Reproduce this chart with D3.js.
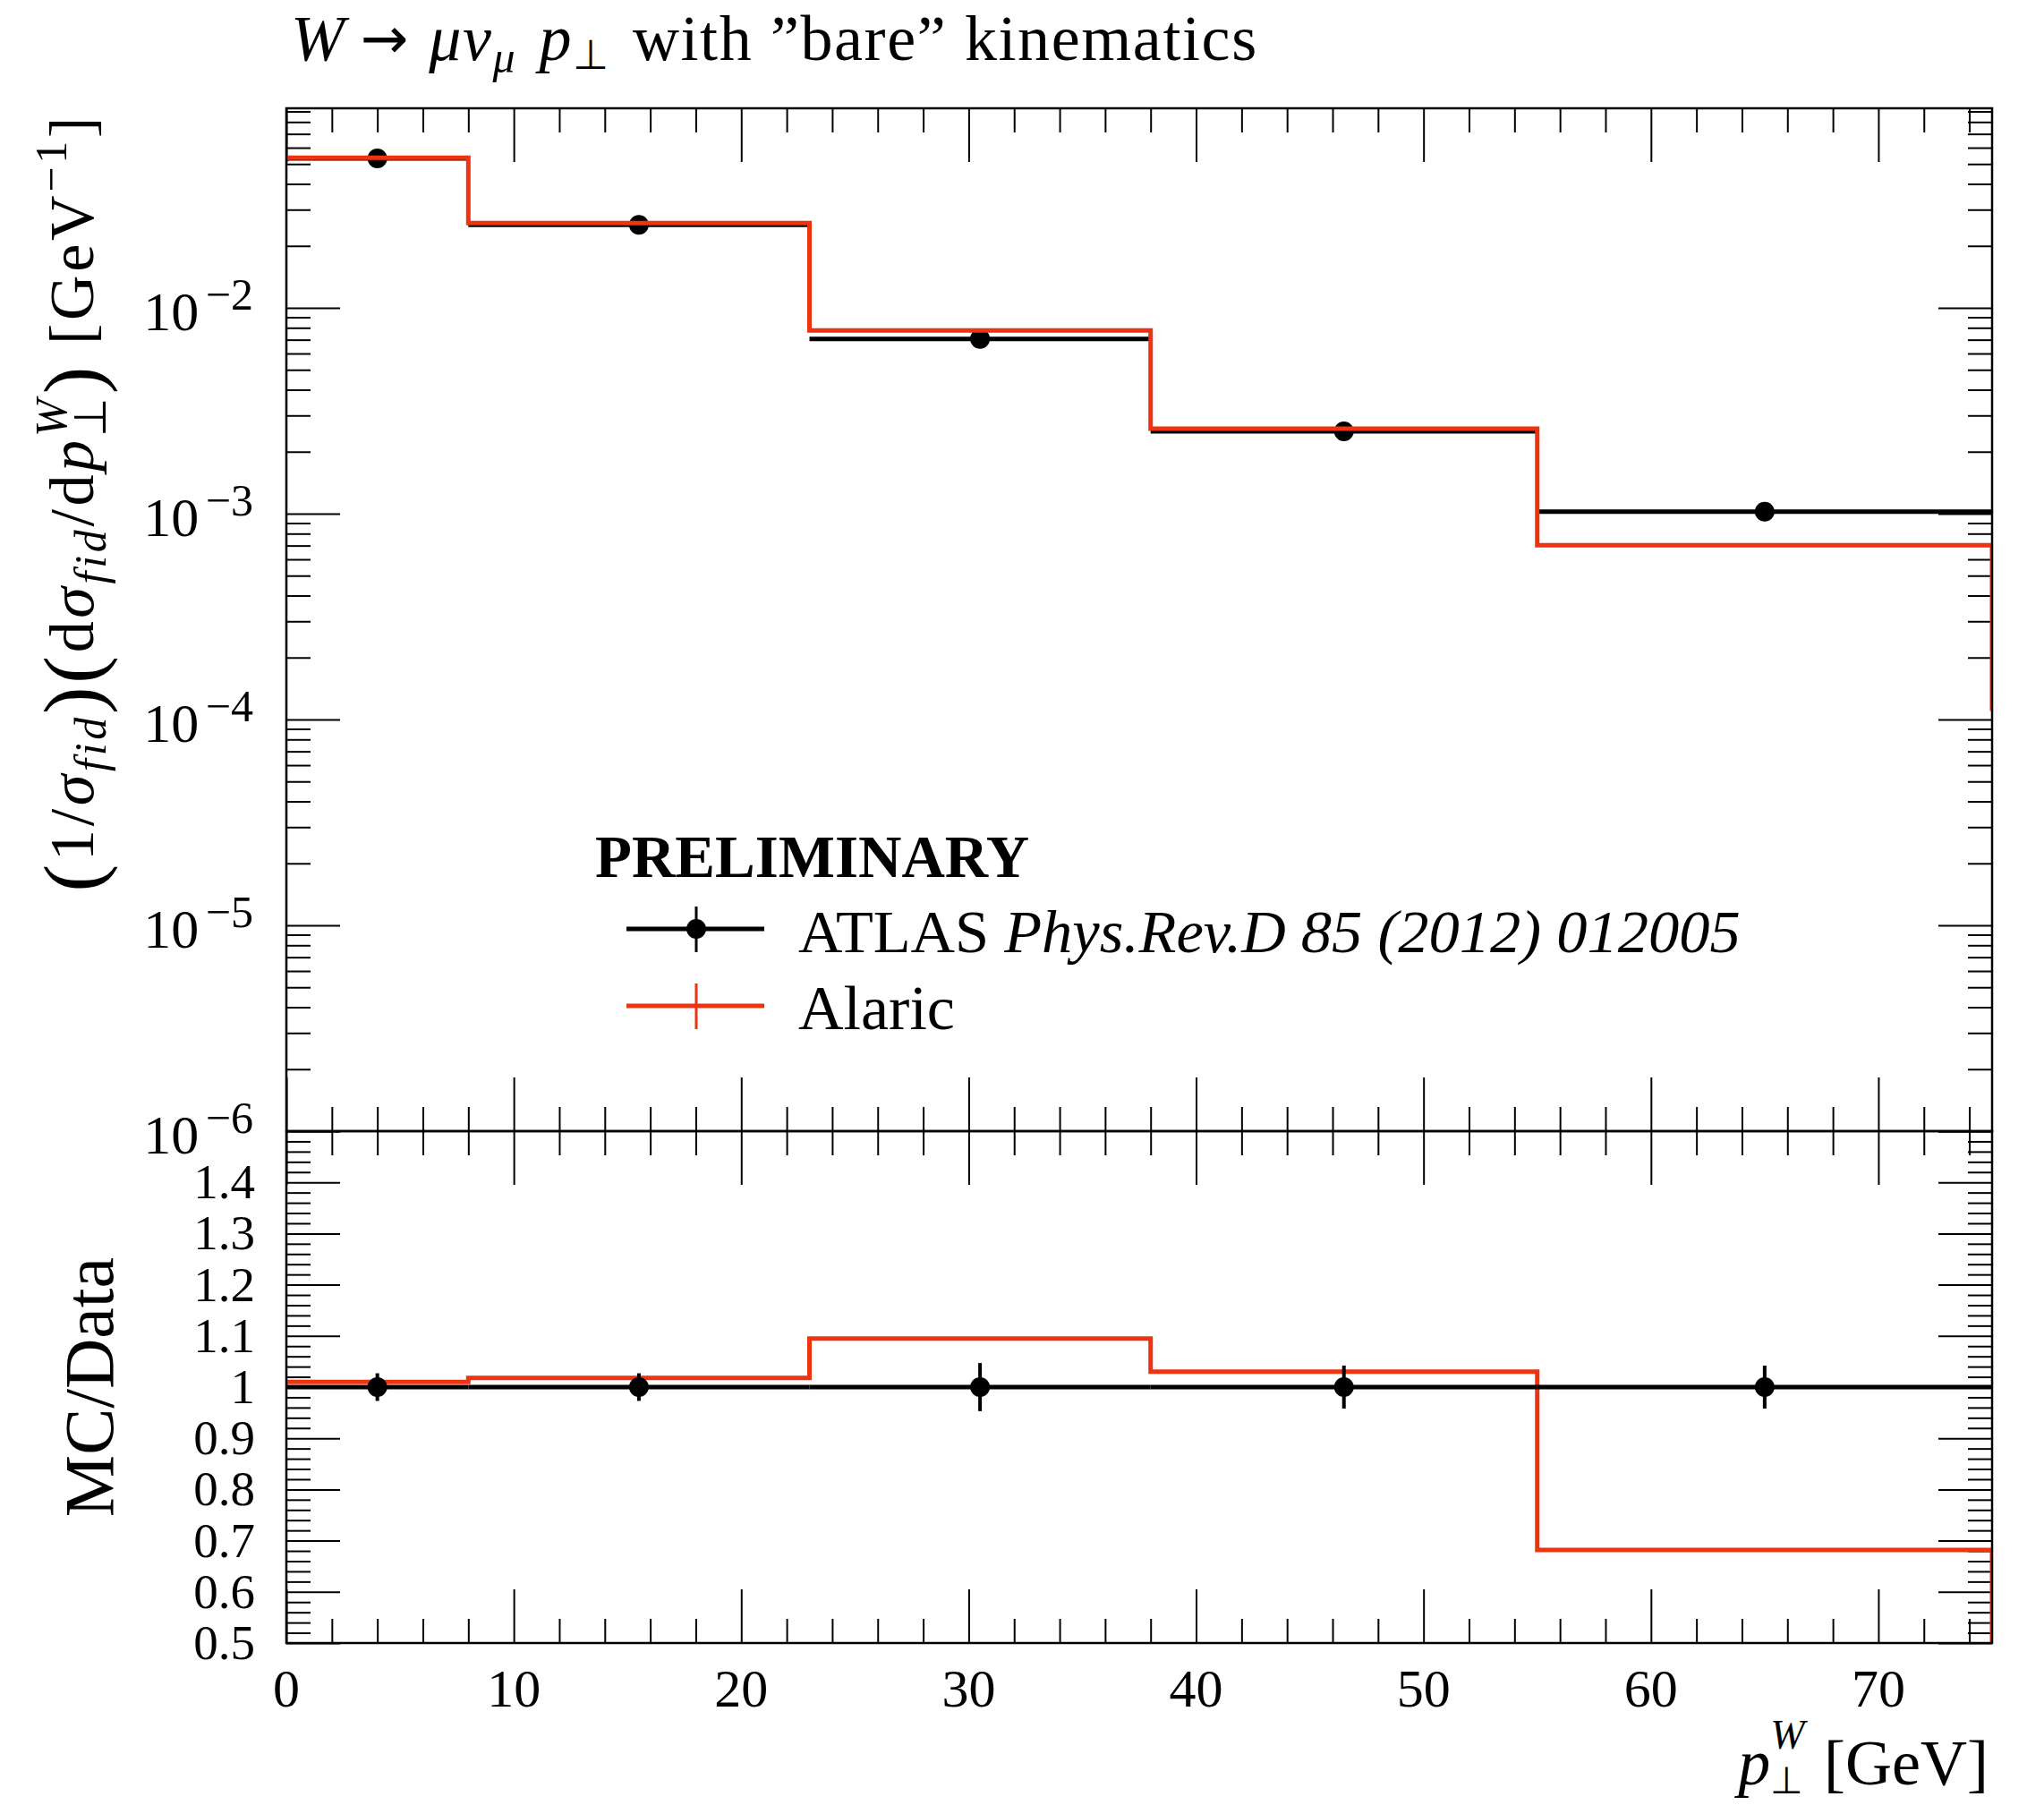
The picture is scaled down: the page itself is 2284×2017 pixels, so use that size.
<!DOCTYPE html>
<html><head><meta charset="utf-8">
<script src="https://cdn.jsdelivr.net/npm/d3@7"></script>
<style>
html,body{margin:0;padding:0;background:#fff;}
svg{display:block;}
text{font-family:"Liberation Serif","Times New Roman",serif;fill:#000;}
</style></head><body>
<svg id="chart" width="2284" height="2017"></svg>
<script>
// ---------------- data ----------------
const binEdges      = [0, 8, 23, 38, 55, 75];
const dataValues    = [0.0532, 0.0253, 0.00707, 0.00251, 0.001023];
const dataRelErrors = [0.027, 0.027, 0.047, 0.042, 0.042];
const mcValues      = [0.0536, 0.0258, 0.00776, 0.00259, 0.000702];
const mcEndValue    = 1.1e-4;
const ratioValues   = [1.010, 1.018, 1.095, 1.030, 0.682];
const ratioEndValue = 0.5;
const xTicks        = [0, 10, 20, 30, 40, 50, 60, 70];
const xTickLabels   = ["0", "10", "20", "30", "40", "50", "60", "70"];
const yUpperExponents = [-6, -5, -4, -3, -2];
const yLowerTicks   = [0.5, 0.6, 0.7, 0.8, 0.9, 1.0, 1.1, 1.2, 1.3, 1.4, 1.5];
const yLowerLabels  = ["0.5", "0.6", "0.7", "0.8", "0.9", "1", "1.1", "1.2", "1.3", "1.4", ""];
const legendLabels  = ["ATLAS", "Alaric"];
const legendRef     = "Phys.Rev.D 85 (2012) 012005";

// ---------------- layout ----------------
const L = 320, R = 2226, T = 121, M = 1264, B = 1836;
const RED = "#ee3311";
const svg = d3.select("#chart");

const x  = d3.scaleLinear().domain([0, 75]).range([L, R]);
const yU = d3.scaleLog().domain([1e-6, Math.pow(10, -1.0304)]).range([M, T]);
const yL = d3.scaleLinear().domain([0.5, 1.5]).range([B, M]);

// rich text helper: lays out pieces left to right, measuring each;
// a "stack" piece is placed as a tspan under/over the previous piece
function rich(parent, pieces, opt) {
  const outer = parent.append("g")
    .attr("transform", `translate(${opt.x},${opt.y})` + (opt.rotate ? " rotate(-90)" : ""));
  const inner = outer.append("g");
  let cx = 0, lastStart = 0, lastText = null;
  const styleIt = (sel, p) => {
    sel.style("font-size", (p.size || opt.size) + "px")
      .style("font-style", p.italic ? "italic" : "normal")
      .style("font-weight", (p.bold || opt.bold) ? "bold" : "normal")
      .style("letter-spacing", (opt.ls || 0) + "px");
    if (p.font) sel.style("font-family", p.font);
  };
  pieces.forEach(p => {
    if (p.gap) { cx += p.gap * opt.size; return; }
    if (p.stack && lastText) {
      const ts = lastText.append("tspan").attr("x", lastStart).attr("y", p.dy || 0).text(p.t);
      styleIt(ts, p);
      const w = ts.node().getComputedTextLength();
      cx = Math.max(cx, lastStart + w);
      return;
    }
    const t = inner.append("text").attr("x", cx).attr("y", 0);
    const ts = t.append("tspan").attr("x", cx).attr("y", p.dy || 0).text(p.t);
    styleIt(ts, p);
    const w = ts.node().getComputedTextLength();
    lastStart = cx; lastText = t;
    cx += w;
  });
  const off = opt.anchor === "end" ? -cx : opt.anchor === "middle" ? -cx / 2 : 0;
  inner.attr("transform", `translate(${off},0)`);
  return outer;
}

// clip paths
const defs = svg.append("defs");
defs.append("clipPath").attr("id", "clipU").append("rect")
  .attr("x", L).attr("y", T).attr("width", R - L).attr("height", M - T);
defs.append("clipPath").attr("id", "clipL").append("rect")
  .attr("x", L).attr("y", M).attr("width", R - L).attr("height", B - M);

// ---------------- ticks ----------------
const tickGroup = svg.append("g");
function addAxis(gen, tx, ty) {
  const a = tickGroup.append("g").attr("transform", `translate(${tx},${ty})`).call(gen);
  a.select(".domain").remove();
  a.selectAll("text").remove();
  a.selectAll("line").attr("stroke", "#000").attr("stroke-width", 2);
}
const xMinor = d3.range(0, 75, 2).filter(v => v % 10 !== 0);
const yUMajor = yUpperExponents.map(k => Math.pow(10, k));
const yUMinor = [];
yUpperExponents.forEach(k => { for (let m = 2; m <= 9; m++) { const v = m * Math.pow(10, k); if (v <= yU.domain()[1]) yUMinor.push(v); } });
const yLMinor = d3.range(0, 51).map(i => 0.5 + i * 0.02).filter(v => Math.abs(v * 10 - Math.round(v * 10)) > 1e-6);

[[T, d3.axisTop], [M, d3.axisBottom], [M, d3.axisTop], [B, d3.axisBottom]].forEach(([yy, ax]) => {
  addAxis(ax(x).tickValues(xTicks).tickSize(-60).tickFormat(""), 0, yy);
  addAxis(ax(x).tickValues(xMinor).tickSize(-27).tickFormat(""), 0, yy);
});
[[L, d3.axisLeft], [R, d3.axisRight]].forEach(([xx, ax]) => {
  addAxis(ax(yU).tickValues(yUMajor).tickSize(-60).tickFormat(""), xx, 0);
  addAxis(ax(yU).tickValues(yUMinor).tickSize(-27).tickFormat(""), xx, 0);
  addAxis(ax(yL).tickValues(yLowerTicks).tickSize(-60).tickFormat(""), xx, 0);
  addAxis(ax(yL).tickValues(yLMinor).tickSize(-27).tickFormat(""), xx, 0);
});

// ---------------- upper panel ----------------
const bins = dataValues.map((v, i) => ({
  lo: binEdges[i], hi: binEdges[i + 1], c: (binEdges[i] + binEdges[i + 1]) / 2,
  data: v, err: dataRelErrors[i], mc: mcValues[i], ratio: ratioValues[i]
}));

const up = svg.append("g").attr("clip-path", "url(#clipU)");
up.selectAll(".dx").data(bins).join("line")
  .attr("x1", d => x(d.lo)).attr("x2", d => x(d.hi))
  .attr("y1", d => yU(d.data)).attr("y2", d => yU(d.data))
  .attr("stroke", "#000").attr("stroke-width", 5);
up.selectAll(".dy").data(bins).join("line")
  .attr("x1", d => x(d.c)).attr("x2", d => x(d.c))
  .attr("y1", d => yU(d.data * (1 - d.err))).attr("y2", d => yU(d.data * (1 + d.err)))
  .attr("stroke", "#000").attr("stroke-width", 4);
up.selectAll(".dp").data(bins).join("circle")
  .attr("cx", d => x(d.c)).attr("cy", d => yU(d.data)).attr("r", 11).attr("fill", "#000");

const mcPts = binEdges.map((e, i) => [e, i < mcValues.length ? mcValues[i] : mcValues[mcValues.length - 1]]);
mcPts.push([binEdges[binEdges.length - 1], mcEndValue]);
up.append("path")
  .attr("d", d3.line().x(d => x(d[0])).y(d => yU(d[1])).curve(d3.curveStepAfter)(mcPts))
  .attr("fill", "none").attr("stroke", RED).attr("stroke-width", 5);

// ---------------- lower panel ----------------
const lo = svg.append("g").attr("clip-path", "url(#clipL)");
const rPts = binEdges.map((e, i) => [e, i < ratioValues.length ? ratioValues[i] : ratioValues[ratioValues.length - 1]]);
rPts.push([binEdges[binEdges.length - 1], ratioEndValue]);
lo.append("path")
  .attr("d", d3.line().x(d => x(d[0])).y(d => yL(d[1])).curve(d3.curveStepAfter)(rPts))
  .attr("fill", "none").attr("stroke", RED).attr("stroke-width", 5);
lo.selectAll(".rx").data(bins).join("line")
  .attr("x1", d => x(d.lo)).attr("x2", d => x(d.hi))
  .attr("y1", d => yL(d.data / d.data)).attr("y2", d => yL(d.data / d.data))
  .attr("stroke", "#000").attr("stroke-width", 5);
lo.selectAll(".ry").data(bins).join("line")
  .attr("x1", d => x(d.c)).attr("x2", d => x(d.c))
  .attr("y1", d => yL(1 - d.err)).attr("y2", d => yL(1 + d.err))
  .attr("stroke", "#000").attr("stroke-width", 4);
lo.selectAll(".rp").data(bins).join("circle")
  .attr("cx", d => x(d.c)).attr("cy", d => yL(1)).attr("r", 11).attr("fill", "#000");

// frames
[[T, M], [M, B]].forEach(([a, b]) => {
  svg.append("rect").attr("x", L).attr("y", a).attr("width", R - L).attr("height", b - a)
    .attr("fill", "none").attr("stroke", "#000").attr("stroke-width", 2.5);
});

// ---------------- tick labels ----------------
svg.append("g").selectAll("text").data(xTicks).join("text")
  .attr("x", d => x(d)).attr("y", 1907).attr("text-anchor", "middle")
  .style("font-size", "60px").text((d, i) => xTickLabels[i]);

yUpperExponents.forEach(k => {
  const ty = yU(Math.pow(10, k));
  rich(svg, [{ t: "10" }, { gap: 0.12 }, { t: "\u2212" + Math.abs(k), size: 50, dy: -23 }],
    { x: 283, y: ty + 25, size: 62, anchor: "end" });
});
svg.append("g").selectAll("text").data(yLowerTicks).join("text")
  .attr("x", 285).attr("y", d => yL(d) + 18).attr("text-anchor", "end")
  .style("font-size", "55px").text((d, i) => yLowerLabels[i]);

// ---------------- titles / axis labels ----------------
rich(svg, [
  { t: "W", italic: true }, { gap: 0.22 }, { t: "\u2192", font: "DejaVu Sans", size: 64, dy: -2 }, { gap: 0.3 },
  { t: "\u03bc\u03bd", italic: true }, { t: "\u03bc", italic: true, size: 50, dy: 14 }, { gap: 0.35 },
  { t: "p", italic: true }, { t: "\u22a5", size: 46, dy: 10 }, { gap: 0.35 },
  { t: "with \u201dbare\u201d kinematics" }
], { x: 325, y: 67, size: 72, ls: 1.6 });

rich(svg, [
  { t: "(", size: 92, dy: 8 }, { t: "1/" }, { t: "\u03c3", italic: true }, { t: "fid", italic: true, size: 50, dy: 14 },
  { t: ")", size: 92, dy: 8 }, { t: "(", size: 92, dy: 8 }, { t: "d" }, { t: "\u03c3", italic: true },
  { t: "fid", italic: true, size: 50, dy: 14 }, { t: "/d" }, { t: "p", italic: true },
  { t: "W", italic: true, size: 50, dy: -30 }, { t: "\u22a5", size: 50, dy: 14, stack: true },
  { t: ")", size: 92, dy: 8 }, { gap: 0.3 }, { t: "[GeV" }, { t: "\u22121", size: 50, dy: -30 }, { t: "]" }
], { x: 104, y: 127, size: 70, anchor: "end", rotate: true, ls: 3.7 });

rich(svg, [{ t: "MC/Data" }], { x: 126, y: 1550, size: 78, anchor: "middle", rotate: true });

rich(svg, [
  { t: "p", italic: true }, { t: "W", italic: true, size: 46, dy: -40 }, { t: "\u22a5", size: 42, dy: 10, stack: true },
  { gap: 0.3 }, { t: "[GeV]" }
], { x: 2222, y: 1994, size: 72, anchor: "end" });

// ---------------- legend ----------------
rich(svg, [{ t: "PRELIMINARY", bold: true }], { x: 665, y: 980, size: 67 });
const leg = svg.append("g");
leg.append("line").attr("x1", 700).attr("x2", 854).attr("y1", 1038).attr("y2", 1038).attr("stroke", "#000").attr("stroke-width", 5);
leg.append("line").attr("x1", 778).attr("x2", 778).attr("y1", 1013).attr("y2", 1064).attr("stroke", "#000").attr("stroke-width", 3);
leg.append("circle").attr("cx", 778).attr("cy", 1038).attr("r", 11).attr("fill", "#000");
rich(leg, [{ t: legendLabels[0] }, { gap: 0.25 }, { t: legendRef, italic: true }], { x: 892, y: 1064, size: 68.5 });
leg.append("line").attr("x1", 700).attr("x2", 854).attr("y1", 1124).attr("y2", 1124).attr("stroke", RED).attr("stroke-width", 5);
leg.append("line").attr("x1", 778).attr("x2", 778).attr("y1", 1099).attr("y2", 1150).attr("stroke", RED).attr("stroke-width", 3);
rich(leg, [{ t: legendLabels[1] }], { x: 892, y: 1150, size: 70 });
</script>
</body></html>
